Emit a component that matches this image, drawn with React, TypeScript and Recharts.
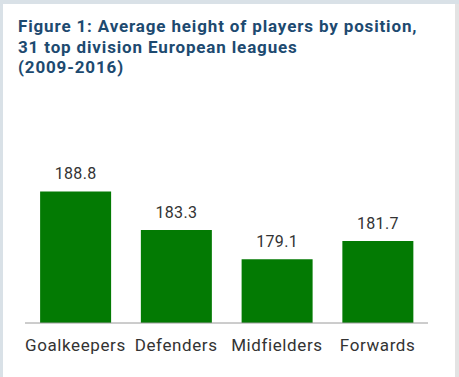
import React from "react";
import { BarChart, Bar, XAxis, YAxis, LabelList, Cell } from "recharts";

const categories = ["Goalkeepers", "Defenders", "Midfielders", "Forwards"];
const heights = [188.8, 183.3, 179.1, 181.7];
const titleLines = [
  "Figure 1: Average height of players by position,",
  "31 top division European leagues",
  "(2009-2016)",
];

const data = categories.map((c, i) => ({ name: c, value: heights[i] }));

export default function App() {
  return (
    <div
      style={{
        position: "absolute",
        left: 0,
        top: 0,
        width: 459,
        height: 377,
        background: "#d9e1e7",
        overflow: "hidden",
      }}
    >
      <div
        style={{
          position: "absolute",
          left: 3,
          top: 4,
          width: 452,
          height: 373,
          background: "#ffffff",
        }}
      />
      <div
        style={{
          position: "absolute",
          left: 455,
          top: 4,
          width: 4,
          height: 373,
          background: "#e3e3e3",
        }}
      />
      <div
        style={{
          position: "absolute",
          left: 18,
          top: 16,
          fontFamily: "Roboto, sans-serif",
          fontWeight: 700,
          fontSize: 17,
          letterSpacing: 0.85,
          lineHeight: "20.5px",
          color: "#1d4a70",
          whiteSpace: "nowrap",
        }}
      >
        {titleLines.map((l, i) => (
          <div key={i}>{l}</div>
        ))}
      </div>
      <div style={{ position: "absolute", left: 0, top: 0 }}>
        <BarChart
          width={459}
          height={377}
          data={data}
          margin={{ top: 183, right: 31, bottom: 24, left: 25 }}
          barCategoryGap="15%"
        >
          <XAxis
            dataKey="name"
            height={30}
            tickLine={false}
            axisLine={{ stroke: "#9a9a9a" }}
            tickMargin={10}
            interval={0}
            tick={{ fill: "#333333", fontSize: 17, letterSpacing: 0.6, fontFamily: "Roboto, sans-serif" }}
          />
          <YAxis hide domain={[170, 190]} />
          <Bar dataKey="value" fill="#037a03" isAnimationActive={false}>
            {data.map((d, i) => (
              <Cell key={i} fill="#037a03" />
            ))}
            <LabelList
              dataKey="value"
              position="top"
              offset={12}
              style={{ fill: "#333333", fontSize: 16, letterSpacing: 0.3, fontFamily: "Roboto, sans-serif" }}
            />
          </Bar>
        </BarChart>
      </div>
    </div>
  );
}
